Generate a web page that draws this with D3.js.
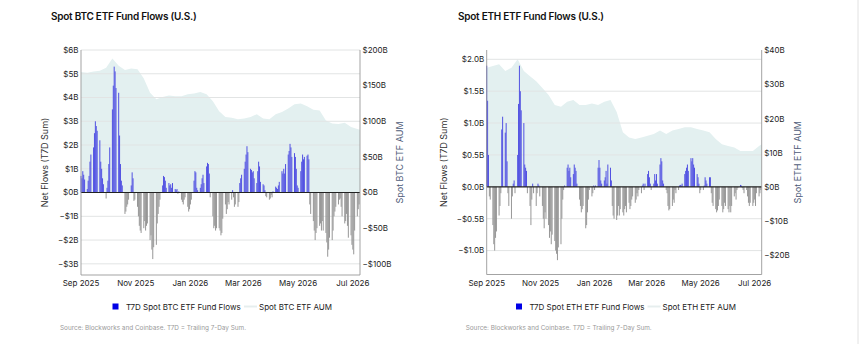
<!DOCTYPE html>
<html>
<head>
<meta charset="utf-8">
<script src="https://cdn.jsdelivr.net/npm/d3@7"></script>
<style>
  body { margin: 0; background: #fff; }
  svg { display: block; font-family: Inter, "Noto Sans", sans-serif; }
</style>
</head>
<body>
<svg id="chart" width="860" height="344"></svg>
<script>
// T7D flows, one value per trading day (Mon-Fri) from 2025-09-01, in $B
btcFlows = [
  0.7, 0.6, 0.9, 0.75, 0.55,     0.15, 0.5, 0.7, 1.3, 1.6,
  1.9, 2.5, 3.0, 2.8, 2.6,       2.2, 1.3, 1.0, 0.6, 0.35,
  -0.25, 0.2, 0.5, 1.2, 1.9,     3.5, 4.5, 5.3, 5.1, 4.4,
  4.2, 2.4, 1.2, 0.5, 0.3,       -0.9, -0.8, -0.6, -0.5, -0.3,
  0.3, 0.85, 0.6, -0.35, -0.3,   -0.6, -1.0, -1.4, -1.6, -1.7,
  -1.5, -1.2, -1.6, -1.4, -1.3,  -2.0, -1.8, -2.4, -2.8, -2.3,
  -2.2, -1.3, -0.9, -0.6, -0.3,  0.3, 0.7, 0.65, 0.5, 0.2,
  0.4, 0.3, 0.35, 0.2, 0.4,      0.15, 0.1, 0.15, -0.05, 0.05,
  -0.3, -0.4, -0.5, -0.3, -0.2,  -0.6, -0.8, -0.7, -0.5, -0.3,
  0.5, 0.9, 0.85, 0.2, 0.1,      0.2, 0.35, 0.6, 0.75, 0.4,
  1.1, 1.25, 1.2, 0.8, -0.2,     -1.0, -1.5, -1.4, -1.6, -1.5,
  -1.5, -1.6, -1.8, -1.7, -1.1,  -0.5, -0.9, -0.7, -0.4, -0.5,
  -0.3, 0.1, -0.2, -0.6, -0.5,   -0.6, -0.4, 0.4, 0.6, 0.75,
  1.0, 1.3, 1.6, 1.95, 1.7,      1.0, 0.95, 0.85, 0.9, 0.6,
  0.4, 0.9, 1.3, 1.1, 0.45,      0.35, 0.3, 0.1, -0.15, -0.2,
  -0.3, -0.25, -0.1, -0.2, 0.05, 0.25, 0.2, 0.15, 0.3, 0.45,
  0.9, 0.8, 1.0, 0.8, 1.2,       1.6, 1.75, 2.05, 1.9, 1.5,
  1.66, 1.5, 1.0, 0.3, 0.2,      0.9, 1.3, 1.6, 1.4, 1.5,
  1.55, 1.6, 1.4, -0.5, -0.9,    -1.2, -1.6, -2.0, -1.7, -1.5,
  -1.4, -1.3, -1.6, -1.2, -1.6,  -1.7, -2.1, -2.7, -2.4, -1.9,
  -2.0, -1.6, -1.0, -0.8, -0.6,  -0.5, -0.3, -0.25, -0.6, -1.0,
  -1.3, -1.2, -0.9, -1.4, -1.9,  -1.8, -2.2, -2.4, -2.6, -1.6,
  -1.0, -0.7, -0.5
];
// weekly AUM (each Monday from 2025-09-01), in $B
btcAum = [169, 168, 170, 171, 175, 188, 178, 172, 174, 173, 160, 140, 131, 134, 136, 135,
          135, 138, 139, 141, 138, 128, 114, 106, 105, 103, 104, 106, 110, 104, 103, 110,
          113, 118, 124, 125, 121, 116, 115, 101, 97, 96, 98, 92, 89, 88];

ethFlows = [
  1.9, 1.35, 0.5, -0.15, -0.2,   -0.6, -0.9, -1.0, -0.8, -0.7,
  -0.45, -0.3, -0.1, 0.9, 1.1,   0.85, 1.0, 0.4, -0.1, -0.3,
  -0.5, -0.15, 0.05, 0.1, -0.1,  0.5, 1.3, 1.9, 1.5, 1.2,
  1.0, 0.35, 0.3, 0.25, -0.1,    -0.3, -0.6, -0.2, 0.05, -0.1,
  -0.3, -0.1, 0.05, 0.02, -0.15, -0.3, -0.5, -0.65, -0.4, -0.5,
  -0.6, -0.8, -0.7, -0.9, -0.75, -0.85, -1.0, -1.05, -1.15, -0.95,
  -0.9, -0.5, -0.2, -0.05, 0.02, 0.3, 0.35, 0.25, 0.3, 0.15,
  0.2, 0.35, 0.3, 0.25, 0.05,    -0.2, -0.3, -0.4, -0.35, -0.3,
  -0.65, -0.6, -0.4, -0.2, -0.05, -0.15, -0.1, 0.02, -0.05, 0.02,
  0.3, 0.42, 0.3, 0.1, 0.05,     0.1, 0.15, 0.25, 0.05, 0.35,
  0.3, 0.1, -0.3, -0.45, -0.5,   -0.52, -0.45, -0.3, -0.45, -0.35,
  -0.4, -0.45, -0.35, -0.3, -0.4, -0.25, -0.35, -0.3, -0.2, -0.15,
  -0.25, -0.2, -0.1, -0.15, -0.05, -0.1, 0.02, 0.05, -0.05, 0.05,
  0.2, 0.25, 0.15, 0.05, -0.05,  0.05, 0.2, 0.1, 0.2, 0.05,
  0.35, 0.45, 0.4, 0.1, 0.05,    -0.05, -0.1, -0.3, -0.37, -0.35,
  -0.3, -0.2, -0.25, -0.05, -0.1, -0.05, 0.02, 0.03, 0.02, 0.05,
  0.2, 0.25, 0.3, 0.35, 0.25,    0.45, 0.4, 0.45, 0.35, 0.3,
  0.2, 0.15, 0.05, -0.1, -0.05,  -0.05, 0.02, 0.15, 0.1, 0.05,
  0.15, 0.15, -0.1, -0.25, -0.3, -0.35, -0.4, -0.37, -0.3, -0.2,
  -0.3, -0.4, -0.35, -0.25, -0.3, -0.35, -0.4, -0.3, -0.4, -0.3,
  -0.15, -0.1, -0.2, -0.05, -0.02, 0.03, 0.02, -0.02, -0.05, -0.1,
  -0.05, -0.15, -0.25, -0.3, -0.25, -0.3, -0.25, -0.2, -0.3, -0.1,
  -0.15, -0.1, -0.05
];
ethAum = [35, 35.5, 36, 34, 35, 37.5, 34, 32.5, 31, 29, 27, 24, 23.5, 25, 25.5, 24,
          24, 24.5, 24, 25, 25.5, 22, 16, 14.5, 14, 14.5, 15, 15.5, 16.5, 15.5, 16.5, 17,
          17.5, 17.5, 17, 16.5, 16, 14, 12.5, 12, 11.5, 10.5, 10.5, 10.5, 12, 12.5];

btcLeftTicks = [-3, -2, -1, 0, 1, 2, 3, 4, 5, 6];
btcRightTicks = [-100, -50, 0, 50, 100, 150, 200];
ethLeftTicks = [-1, -0.5, 0, 0.5, 1, 1.5, 2];
ethRightTicks = [-20, -10, 0, 10, 20, 30, 40];
monthTicks = ["2025-09-01", "2025-11-01", "2026-01-01", "2026-03-01", "2026-05-01", "2026-07-01"];

parseDate = d3.timeParse("%Y-%m-%d");
startDate = parseDate("2025-09-01");
endDate = parseDate("2026-07-09");

function tradingDays(n) {
    out = [];
    d = new Date(startDate);
    while (out.length < n) {
        if (d.getDay() !== 0 && d.getDay() !== 6) out.push(new Date(d));
        d = d3.timeDay.offset(d, 1);
    }
    return out;
}

function money(v, dec) {
    return (v < 0 ? "\u2212" : "") + "$" + Math.abs(v).toFixed(dec) + "B";
}

svg = d3.select("#chart");

function drawPanel(c) {
    g = svg.append("g");

    x = d3.scaleTime().domain([startDate, endDate]).range([c.left, c.right]).clamp(true);
    y = d3.scaleLinear().domain(c.yDom).range([c.bottom, c.top]);
    y2 = d3.scaleLinear().domain(c.y2Dom).range([c.bottom, c.top]);

    // AUM area
    aumData = c.aum.map((v, i) => ({date: d3.timeDay.offset(startDate, i * 7), v: v}));
    area = d3.area()
        .x(d => x(d.date))
        .y0(y2(0))
        .y1(d => y2(d.v));
    g.append("path")
        .datum(aumData)
        .attr("d", area)
        .attr("fill", "#e3f0f0");

    // gridlines (drawn over the area, faint)
    g.selectAll(".grid")
        .data(c.leftTicks.filter(t => t !== 0))
        .join("line")
        .attr("x1", c.left).attr("x2", c.right)
        .attr("y1", d => y(d)).attr("y2", d => y(d))
        .attr("stroke", "#e2e4e4").attr("stroke-width", 1);

    // flow bars
    days = tradingDays(c.flows.length);
    g.selectAll(".bar")
        .data(c.flows)
        .join("rect")
        .attr("x", (d, i) => x(days[i]) - 0.5)
        .attr("width", 1)
        .attr("y", d => Math.min(y(d), y(0)))
        .attr("height", d => Math.abs(y(d) - y(0)))
        .attr("fill", d => d >= 0 ? "#5252e2" : "#979797");

    // zero line
    g.append("line")
        .attr("x1", c.left).attr("x2", c.right)
        .attr("y1", y(0)).attr("y2", y(0))
        .attr("stroke", "#222").attr("stroke-width", 1.1);

    // frame
    g.append("path")
        .attr("d", `M${c.left},${c.top}V${c.bottom}H${c.right}V${c.top}`)
        .attr("fill", "none").attr("stroke", "#999").attr("stroke-width", 0.9);

    // left tick labels
    g.selectAll(".lt")
        .data(c.leftTicks)
        .join("text")
        .attr("x", c.left - 2.5)
        .attr("y", d => y(d) + 2.8)
        .attr("text-anchor", "end")
        .attr("font-size", 8)
        .attr("fill", "#222")
        .text(d => money(d, c.dec));

    // right tick labels
    g.selectAll(".rt")
        .data(c.rightTicks)
        .join("text")
        .attr("x", c.right + 2.5)
        .attr("y", d => y2(d) + 2.8)
        .attr("font-size", 8)
        .attr("fill", "#222")
        .text(d => money(d, 0));

    // month labels
    g.selectAll(".mt")
        .data(monthTicks.map(parseDate))
        .join("text")
        .attr("x", d => x(d))
        .attr("y", 286)
        .attr("text-anchor", "middle")
        .attr("font-size", 8)
        .attr("fill", "#222")
        .text(d3.timeFormat("%b %Y"));

    // titles
    g.append("text")
        .attr("x", c.titleX).attr("y", 19.5)
        .attr("font-size", 10).attr("font-weight", 600)
        .attr("letter-spacing", -0.25)
        .attr("fill", "#111")
        .text(c.title);

    mid = (c.top + c.bottom) / 2;
    g.append("text")
        .attr("transform", `translate(${c.yTitleX}, ${mid}) rotate(-90)`)
        .attr("text-anchor", "middle")
        .attr("font-size", 9)
        .attr("fill", "#333")
        .text("Net Flows (T7D Sum)");

    g.append("text")
        .attr("transform", `translate(${c.y2TitleX}, ${mid}) rotate(-90)`)
        .attr("text-anchor", "middle")
        .attr("font-size", 9)
        .attr("fill", "#4e5b78")
        .text(c.aumLabel);

    // legend
    g.append("rect")
        .attr("x", c.legX).attr("y", 303.5)
        .attr("width", 6).attr("height", 6)
        .attr("fill", "#0000e6");
    g.append("text")
        .attr("x", c.legX + 13.5).attr("y", 309.5)
        .attr("font-size", 8).attr("fill", "#222")
        .text(c.flowLabel);
    g.append("line")
        .attr("x1", c.leg2X).attr("x2", c.leg2X + 13)
        .attr("y1", 306.5).attr("y2", 306.5)
        .attr("stroke", "#e6eeee").attr("stroke-width", 2);
    g.append("text")
        .attr("x", c.leg2X + 15).attr("y", 309.5)
        .attr("font-size", 8).attr("fill", "#222")
        .text(c.aumLabel);

    // source
    g.append("text")
        .attr("x", c.srcX).attr("y", 330)
        .attr("font-size", 6.4).attr("fill", "#9a9a9a")
        .text("Source: Blockworks and Coinbase. T7D = Trailing 7-Day Sum.");
}

drawPanel({
    left: 81, right: 360, top: 50, bottom: 275,
    yDom: [-3.47, 6], y2Dom: [-115.7, 200],
    leftTicks: btcLeftTicks, rightTicks: btcRightTicks, dec: 0,
    flows: btcFlows, aum: btcAum,
    title: "Spot BTC ETF Fund Flows (U.S.)", titleX: 51,
    yTitleX: 48, y2TitleX: 403,
    flowLabel: "T7D Spot BTC ETF Fund Flows", aumLabel: "Spot BTC ETF AUM",
    legX: 112.5, leg2X: 244, srcX: 60
});

drawPanel({
    left: 486.7, right: 761.7, top: 50, bottom: 274.5,
    yDom: [-1.375, 2.146], y2Dom: [-25.8, 40.2],
    leftTicks: ethLeftTicks, rightTicks: ethRightTicks, dec: 1,
    flows: ethFlows, aum: ethAum,
    title: "Spot ETH ETF Fund Flows (U.S.)", titleX: 458,
    yTitleX: 447, y2TitleX: 801,
    flowLabel: "T7D Spot ETH ETF Fund Flows", aumLabel: "Spot ETH ETF AUM",
    legX: 516, leg2X: 647.5, srcX: 465.7
});

// panel edge on the right
svg.append("line")
    .attr("x1", 858).attr("x2", 858)
    .attr("y1", 0).attr("y2", 344)
    .attr("stroke", "#e2e2e2");
</script>
</body>
</html>
